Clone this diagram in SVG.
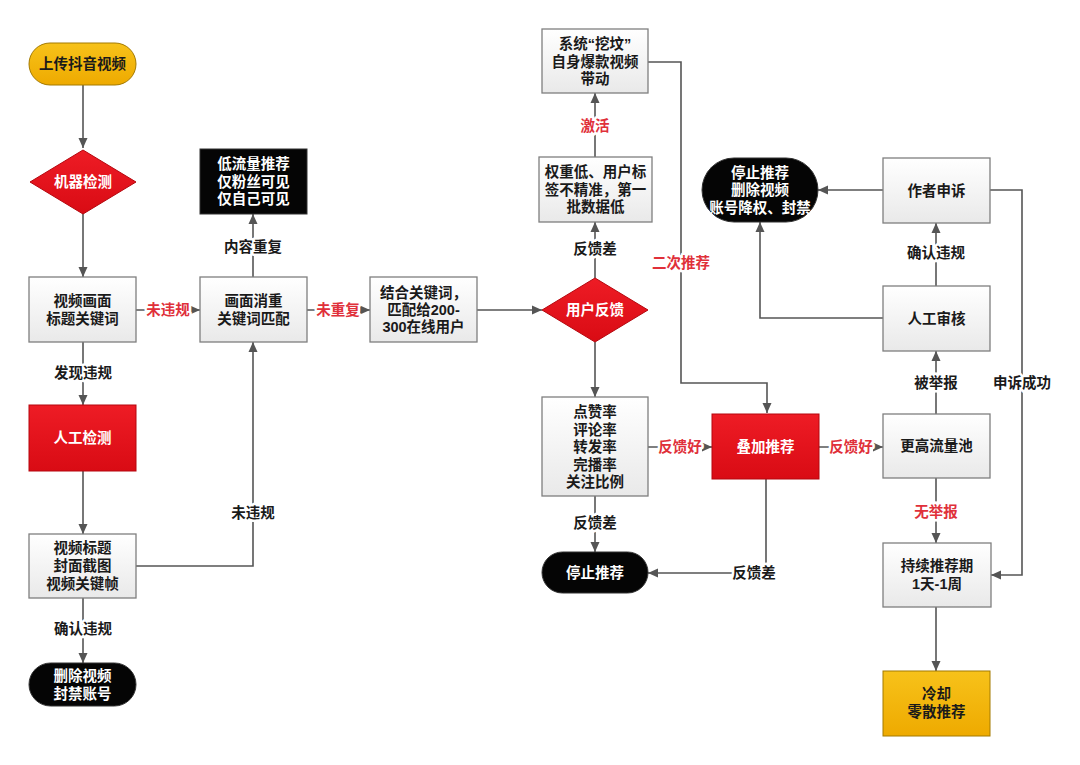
<svg xmlns="http://www.w3.org/2000/svg" width="1080" height="765" viewBox="0 0 1080 765">
<defs>
<linearGradient id="gGray" x1="0" y1="0" x2="0" y2="1"><stop offset="0" stop-color="#ffffff"/><stop offset="1" stop-color="#e9e9e9"/></linearGradient>
<linearGradient id="gRed" x1="0" y1="0" x2="0" y2="1"><stop offset="0" stop-color="#ee1c25"/><stop offset="1" stop-color="#d90b14"/></linearGradient>
<linearGradient id="gGold" x1="0" y1="0" x2="0" y2="1"><stop offset="0" stop-color="#f7c21a"/><stop offset="1" stop-color="#eeaa00"/></linearGradient>
<marker id="ah" markerUnits="userSpaceOnUse" markerWidth="10" markerHeight="10" viewBox="0 0 10 10" refX="10" refY="5" orient="auto"><path d="M0,0.5 L10,5 L0,9.5 z" fill="#555"/></marker>
</defs>
<style>
.box{fill:url(#gGray);stroke:#7f7f7f;stroke-width:1.3}
.red{fill:url(#gRed);stroke:#b5070e;stroke-width:1}
.blk{fill:#050505;stroke:#333;stroke-width:1}
.gold{fill:url(#gGold);stroke:#a47a00;stroke-width:1}
text{font-family:"Liberation Sans","Noto Sans CJK SC",sans-serif;font-weight:bold;font-size:14.5px;text-anchor:middle;dominant-baseline:central}
.t{fill:#1a1a1a}
.w{fill:#ffffff}
.lbl{fill:#1a1a1a;stroke:#ffffff;stroke-width:5;paint-order:stroke;stroke-linejoin:round}
.lr{fill:#e0303a;stroke:#ffffff;stroke-width:5;paint-order:stroke;stroke-linejoin:round}
.c{fill:none;stroke:#555;stroke-width:1.6}
</style>
<rect width="1080" height="765" fill="#ffffff"/>

<g id="connectors">
<path class="c" d="M83,85 V148" marker-end="url(#ah)"/>
<path class="c" d="M83,213 V277" marker-end="url(#ah)"/>
<path class="c" d="M136,310 H200" marker-end="url(#ah)"/>
<path class="c" d="M253,277 V214" marker-end="url(#ah)"/>
<path class="c" d="M83,342 V405" marker-end="url(#ah)"/>
<path class="c" d="M83,471 V534" marker-end="url(#ah)"/>
<path class="c" d="M136,566 H253 V342" marker-end="url(#ah)"/>
<path class="c" d="M83,598 V663" marker-end="url(#ah)"/>
<path class="c" d="M307,310 H370" marker-end="url(#ah)"/>
<path class="c" d="M477,310 H542" marker-end="url(#ah)"/>
<path class="c" d="M595,278 V222" marker-end="url(#ah)"/>
<path class="c" d="M595,157 V93" marker-end="url(#ah)"/>
<path class="c" d="M648,62 H681 V383 H767 V413" marker-end="url(#ah)"/>
<path class="c" d="M595,342 V397" marker-end="url(#ah)"/>
<path class="c" d="M648,447 H712" marker-end="url(#ah)"/>
<path class="c" d="M595,496 V552" marker-end="url(#ah)"/>
<path class="c" d="M766,479 V573 H648" marker-end="url(#ah)"/>
<path class="c" d="M819,447 H883" marker-end="url(#ah)"/>
<path class="c" d="M936,414 V351" marker-end="url(#ah)"/>
<path class="c" d="M936,286 V223" marker-end="url(#ah)"/>
<path class="c" d="M883,190 H818" marker-end="url(#ah)"/>
<path class="c" d="M883,318 H760 V222" marker-end="url(#ah)"/>
<path class="c" d="M990,190 H1022 V575 H991" marker-end="url(#ah)"/>
<path class="c" d="M936,478 V543" marker-end="url(#ah)"/>
<path class="c" d="M936,607 V671" marker-end="url(#ah)"/>
<text class="lr" x="168" y="310">未违规</text>
<text class="lbl" x="253" y="247">内容重复</text>
<text class="lbl" x="83" y="373">发现违规</text>
<text class="lbl" x="253" y="513">未违规</text>
<text class="lbl" x="83" y="629">确认违规</text>
<text class="lr" x="338" y="310">未重复</text>
<text class="lbl" x="595" y="249">反馈差</text>
<text class="lr" x="595" y="126">激活</text>
<text class="lr" x="681" y="263">二次推荐</text>
<text class="lr" x="680" y="447">反馈好</text>
<text class="lbl" x="595" y="523">反馈差</text>
<text class="lbl" x="754" y="573">反馈差</text>
<text class="lr" x="851" y="447">反馈好</text>
<text class="lbl" x="936" y="383">被举报</text>
<text class="lbl" x="936" y="253">确认违规</text>
<text class="lbl" x="1022" y="383">申诉成功</text>
<text class="lr" x="936" y="512">无举报</text>
</g>

<g id="n-upload">
<rect class="gold" x="29" y="43" width="107" height="42" rx="21"/>
<text class="t" x="82.5" y="64">上传抖音视频</text>
</g>
<g id="n-machine">
<polygon class="red" points="83,150 136,182 83,214 30,182"/>
<text class="w" x="83" y="182">机器检测</text>
</g>
<g id="n-frame">
<rect class="box" x="29" y="277" width="107" height="65"/>
<text class="t" x="82.5" y="301">视频画面<tspan x="82.5" dy="18">标题关键词</tspan></text>
</g>
<g id="n-dedup">
<rect class="box" x="200" y="277" width="107" height="65"/>
<text class="t" x="253.5" y="301">画面消重<tspan x="253.5" dy="18">关键词匹配</tspan></text>
</g>
<g id="n-lowflow">
<rect class="blk" x="200" y="149" width="107" height="65"/>
<text class="w" x="253.5" y="164">低流量推荐<tspan x="253.5" dy="17.5">仅粉丝可见</tspan><tspan x="253.5" dy="17.5">仅自己可见</tspan></text>
</g>
<g id="n-manual">
<rect class="red" x="29" y="405" width="107" height="66"/>
<text class="w" x="82.5" y="438">人工检测</text>
</g>
<g id="n-title">
<rect class="box" x="29" y="534" width="107" height="64"/>
<text class="t" x="82.5" y="548">视频标题<tspan x="82.5" dy="18">封面截图</tspan><tspan x="82.5" dy="18">视频关键帧</tspan></text>
</g>
<g id="n-delete">
<rect class="blk" x="29" y="663" width="107" height="43" rx="21.5"/>
<text class="w" x="82.5" y="676">删除视频<tspan x="82.5" dy="18">封禁账号</tspan></text>
</g>
<g id="n-match">
<rect class="box" x="370" y="277" width="107" height="65"/>
<text class="t" x="423.5" y="293">结合关键词，<tspan x="423.5" dy="17">匹配给200-</tspan><tspan x="423.5" dy="17">300在线用户</tspan></text>
</g>
<g id="n-feedback">
<polygon class="red" points="595,278 648,310 595,342 542,310"/>
<text class="w" x="595" y="310">用户反馈</text>
</g>
<g id="n-lowweight">
<rect class="box" x="539" y="157" width="113" height="65"/>
<text class="t" x="595.5" y="172">权重低、用户标<tspan x="595.5" dy="17.5">签不精准，第一</tspan><tspan x="595.5" dy="17.5">批数据低</tspan></text>
</g>
<g id="n-dig">
<rect class="box" x="542" y="29" width="106" height="64"/>
<text class="t" x="595" y="44">系统“挖坟”<tspan x="595" dy="17.5">自身爆款视频</tspan><tspan x="595" dy="17.5">带动</tspan></text>
</g>
<g id="n-metrics">
<rect class="box" x="542" y="397" width="106" height="99"/>
<text class="t" x="595" y="412">点赞率<tspan x="595" dy="17.5">评论率</tspan><tspan x="595" dy="17.5">转发率</tspan><tspan x="595" dy="17.5">完播率</tspan><tspan x="595" dy="17.5">关注比例</tspan></text>
</g>
<g id="n-stop">
<rect class="blk" x="542" y="552" width="106" height="41" rx="20.5"/>
<text class="w" x="595" y="572.5">停止推荐</text>
</g>
<g id="n-stack">
<rect class="red" x="712" y="414" width="107" height="65"/>
<text class="w" x="765.5" y="447">叠加推荐</text>
</g>
<g id="n-higher">
<rect class="box" x="883" y="414" width="107" height="64"/>
<text class="t" x="936.5" y="446">更高流量池</text>
</g>
<g id="n-review">
<rect class="box" x="883" y="286" width="107" height="65"/>
<text class="t" x="936.5" y="318.5">人工审核</text>
</g>
<g id="n-appeal">
<rect class="box" x="883" y="158" width="107" height="65"/>
<text class="t" x="936.5" y="190.5">作者申诉</text>
</g>
<g id="n-ban">
<rect class="blk" x="702" y="158" width="116" height="64" rx="32"/>
<text class="w" x="760" y="172.5">停止推荐<tspan x="760" dy="17.5">删除视频</tspan><tspan x="760" dy="17.5">账号降权、封禁</tspan></text>
</g>
<g id="n-continue">
<rect class="box" x="883" y="543" width="108" height="64"/>
<text class="t" x="937" y="566">持续推荐期<tspan x="937" dy="18">1天-1周</tspan></text>
</g>
<g id="n-cool">
<rect class="gold" x="883" y="671" width="107" height="65"/>
<text class="t" x="936.5" y="694">冷却<tspan x="936.5" dy="18">零散推荐</tspan></text>
</g>
</svg>
